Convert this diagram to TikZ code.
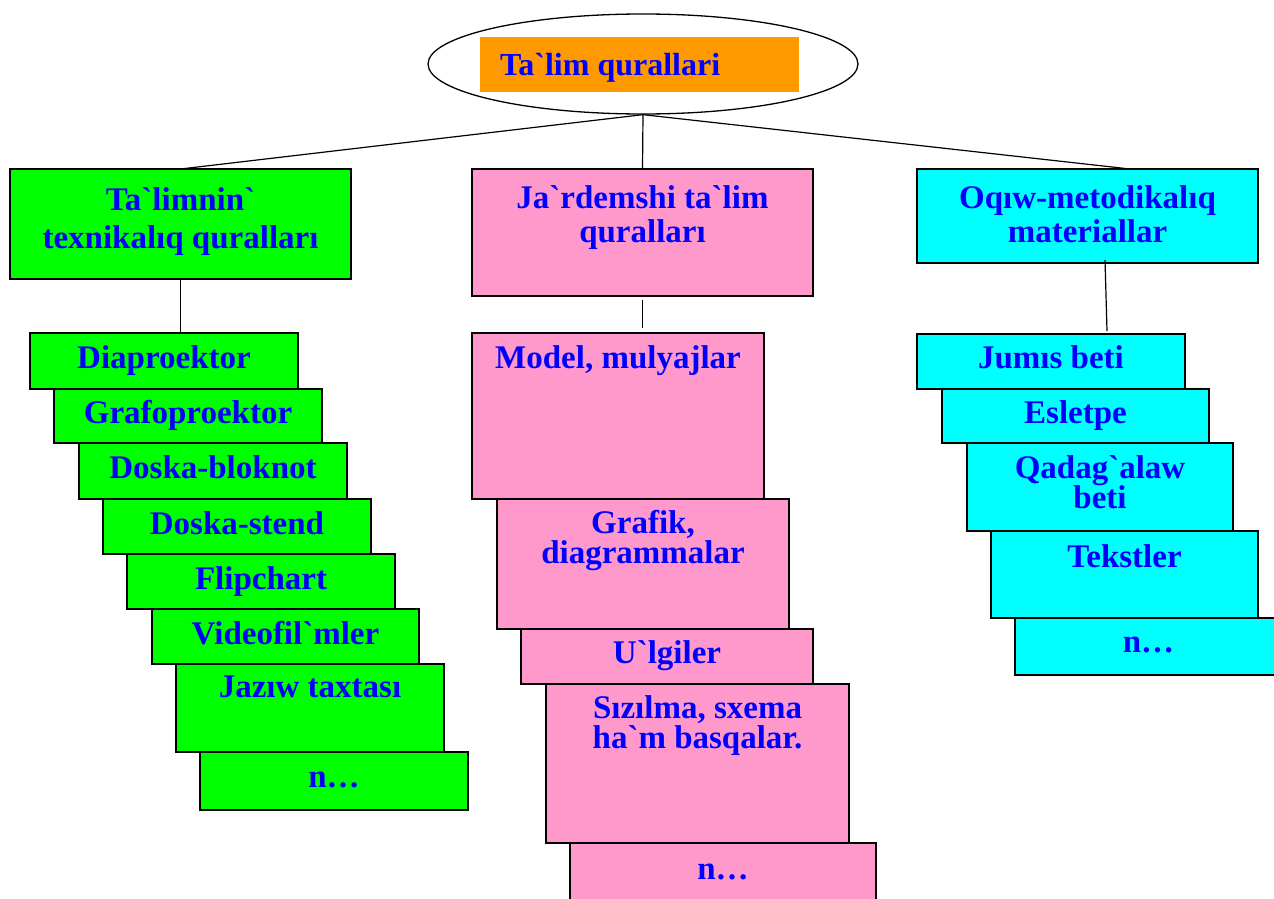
\documentclass[tikz,border=0pt]{standalone}
\usepackage{fontspec}
\setmainfont{Liberation Serif}[Ligatures=TeXOff]
\usetikzlibrary{shapes.geometric,calc}

\definecolor{boxgreen}{RGB}{0,255,0}
\definecolor{boxpink}{RGB}{255,153,204}
\definecolor{boxcyan}{RGB}{0,255,255}
\definecolor{titleorange}{RGB}{255,153,0}
\definecolor{txtblue}{RGB}{0,0,255}

\newcommand*\boxfont{\bfseries\fontsize{33}{30}\selectfont}
\newcommand*\titlefont{\bfseries\fontsize{32}{34}\selectfont}
% two centred lines, first baseline is the box baseline
\newcommand\twolines[3]{\vtop{\baselineskip=#1\lineskiplimit=-100pt\halign{\hfil##\hfil\cr #2\cr #3\cr}}}

\begin{document}
\begin{tikzpicture}[x=1pt,y=-1pt,
  box/.style={draw=black, line width=1.3pt, inner sep=0pt, outer sep=0pt},
  gbox/.style={box, fill=boxgreen},
  pbox/.style={box, fill=boxpink},
  cbox/.style={box, fill=boxcyan},
  lbl/.style={font=\boxfont, text=txtblue, inner sep=0pt, anchor=base},
  link/.style={draw=black, line width=1.2pt}]
\useasboundingbox (0,0) rectangle (1274,899);
\clip (0,0) rectangle (1274,899);

% root
\node[ellipse, draw=black, line width=1.3pt, minimum width=430pt, minimum height=100pt, inner sep=0pt] (root) at (643,64) {};
\node[fill=titleorange, minimum width=319pt, minimum height=55pt, inner sep=0pt] (title) at (639.5,64.5) {};
\node[font=\titlefont, text=txtblue, inner sep=0pt, anchor=base west] (tt) at ($(title.west)+(20,11.5)$) {Ta`lim qurallari};

% three branch heads
\node[gbox, minimum width=341pt, minimum height=110pt] (lt) at (180.5,224) {};
\node[pbox, minimum width=341pt, minimum height=127pt] (jt) at (642.5,232.5) {};
\node[cbox, minimum width=341pt, minimum height=94pt] (rt) at (1087.5,216) {};
\node[lbl] at ($(lt.north)+(0,41)$) {\twolines{38pt}{Ta`limnin`}{texnikalıq quralları}};
\node[lbl] at ($(jt.north)+(0,39)$) {\twolines{34pt}{Ja`rdemshi ta`lim}{quralları}};
\node[lbl] at ($(rt.north)+(0,39)$) {\twolines{34pt}{Oqıw-metodikalıq}{materiallar}};

\draw[link] (root.south) -- (lt.north);
\draw[link] (root.south) -- (jt.north);
\draw[link] (root.south) -- ($(rt.north)+(42.5,0)$);

% left stack
\node[gbox, minimum width=268pt, minimum height=56pt] (d1) at (164,361) {};
\node[gbox, minimum width=268pt, minimum height=54pt] (d2) at (188,416) {};
\node[gbox, minimum width=268pt, minimum height=56pt] (d3) at (213,471) {};
\node[gbox, minimum width=268pt, minimum height=55pt] (d4) at (237,526.5) {};
\node[gbox, minimum width=268pt, minimum height=55pt] (d5) at (261,581.5) {};
\node[gbox, minimum width=267pt, minimum height=55pt] (d6) at (285.5,636.5) {};
\node[gbox, minimum width=268pt, minimum height=88pt] (d7) at (310,708) {};
\node[gbox, minimum width=268pt, minimum height=58pt] (d8) at (334,781) {};
\node[lbl] at ($(d1.north)+(0,35)$) {Diaproektor};
\node[lbl] at ($(d2.north)+(0,34)$) {Grafoproektor};
\node[lbl] at ($(d3.north)+(0,35)$) {Doska-bloknot};
\node[lbl] at ($(d4.north)+(0,35)$) {Doska-stend};
\node[lbl] at ($(d5.north)+(0,35)$) {Flipchart};
\node[lbl] at ($(d6.north)+(0,35)$) {Videofil`mler};
\node[lbl] at ($(d7.north)+(0,33)$) {Jazıw taxtası};
\node[lbl] at ($(d8.north)+(0,35)$) {n…};
\draw[link] (lt.south) -- (lt.south |- d1.north);

% middle stack
\node[pbox, minimum width=292pt, minimum height=166pt] (m1) at (618,416) {};
\node[pbox, minimum width=292pt, minimum height=130pt] (m2) at (643,564) {};
\node[pbox, minimum width=292pt, minimum height=55pt] (m3) at (667,656.5) {};
\node[pbox, minimum width=303pt, minimum height=159pt] (m4) at (697.5,763.5) {};
\node[pbox, minimum width=306pt, minimum height=70pt] (m5) at (723,878) {};
\node[lbl] at ($(m1.north)+(0,35)$) {Model, mulyajlar};
\node[lbl] at ($(m2.north)+(0,34)$) {\twolines{30pt}{Grafik,}{diagrammalar}};
\node[lbl] at ($(m3.north)+(0,34)$) {U`lgiler};
\node[lbl] at ($(m4.north)+(0,34)$) {\twolines{30pt}{Sızılma, sxema}{ha`m basqalar.}};
\node[lbl] at ($(m5.north)+(0,36)$) {n…};
\draw[link, shorten <=4pt, shorten >=5pt] (jt.south) -- (jt.south |- m1.north);

% right stack
\node[cbox, minimum width=268pt, minimum height=55pt] (r1) at (1051,361.5) {};
\node[cbox, minimum width=267pt, minimum height=54pt] (r2) at (1075.5,416) {};
\node[cbox, minimum width=266pt, minimum height=88pt] (r3) at (1100,487) {};
\node[cbox, minimum width=267pt, minimum height=87pt] (r4) at (1124.5,574.5) {};
\node[cbox, minimum width=267pt, minimum height=57pt] (r5) at (1148.5,646.5) {};
\node[lbl] at ($(r1.north)+(0,34)$) {Jumıs beti};
\node[lbl] at ($(r2.north)+(0,34)$) {Esletpe};
\node[lbl] at ($(r3.north)+(0,35)$) {\twolines{30pt}{Qadag`alaw}{beti}};
\node[lbl] at ($(r4.north)+(0,36)$) {Tekstler};
\node[lbl] at ($(r5.north)+(0,34)$) {n…};
\draw[link] ($(rt.south)+(17.5,-3)$) -- ($(r1.north)+(56,-3)$);
\end{tikzpicture}
\end{document}
